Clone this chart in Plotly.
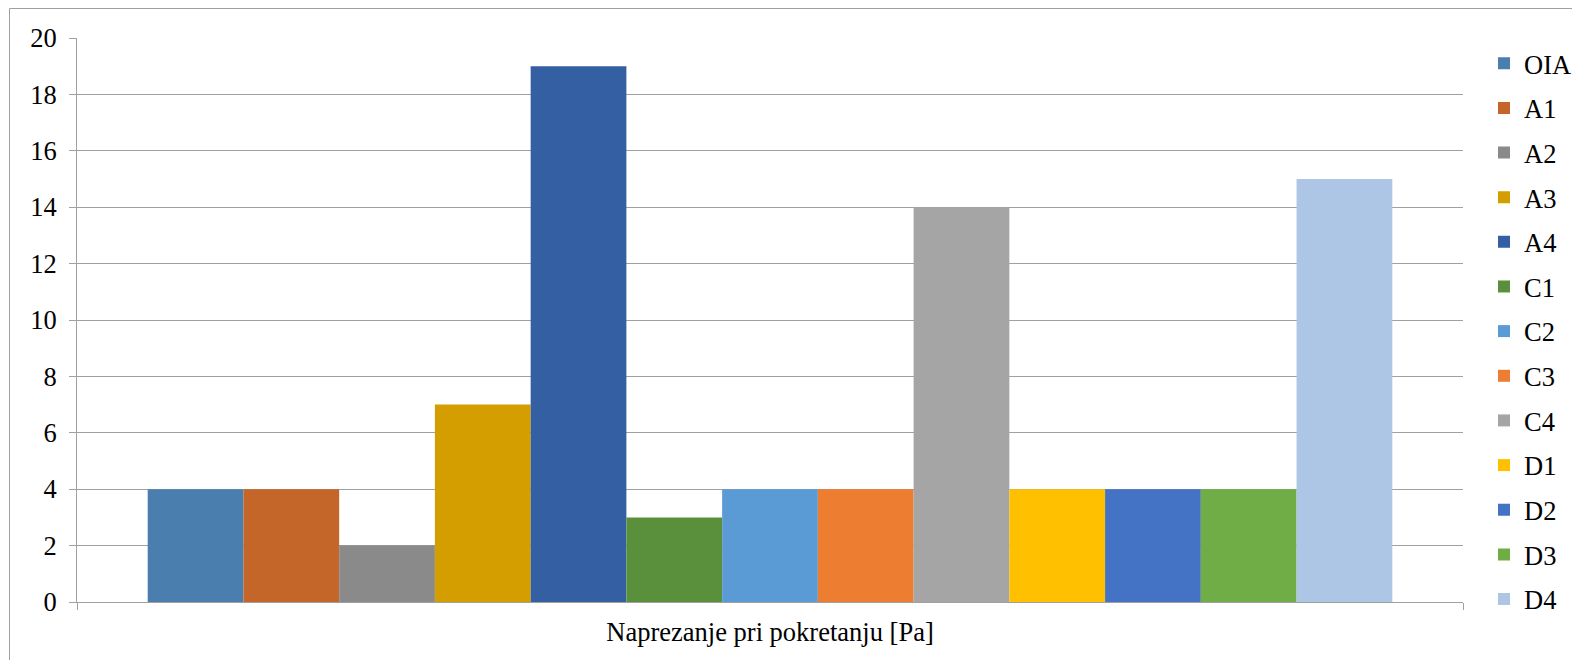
import plotly.graph_objects as go

category = ["Naprezanje pri pokretanju [Pa]"]
series_names = ["OIA", "A1", "A2", "A3", "A4", "C1", "C2", "C3", "C4", "D1", "D2", "D3", "D4"]
values = [4, 4, 2, 7, 19, 3, 4, 4, 14, 4, 4, 4, 15]
colors = ["#4A7EAF", "#C4652A", "#8A8A8A", "#D49E00", "#355FA3", "#5A8F3B",
          "#5B9BD5", "#ED7D31", "#A5A5A5", "#FFC000", "#4472C4", "#70AD47", "#ADC6E5"]
y_ticks = [0, 2, 4, 6, 8, 10, 12, 14, 16, 18, 20]

FONT = "Liberation Serif"
FS = 26.5
W, H = 1572, 652
L, R, T, B = 69, 117, 30, 58

fig = go.Figure()
for i, (name, v, c) in enumerate(zip(series_names, values, colors)):
    fig.add_trace(go.Bar(x=category, y=[v], name=name, marker_color=c,
                         marker_line_width=0, legendgroup=f"g{i}"))

pw = W - L - R
ph = H - T - B
def px_x(p):
    return (p - L) / pw
def px_y(p):
    return (H - B - p) / ph

fig.update_layout(
    width=W, height=H,
    margin=dict(l=L, r=R, t=T, b=B, pad=0, autoexpand=False),
    paper_bgcolor="white", plot_bgcolor="white",
    barmode="group", bargap=0.102, bargroupgap=0,
    font=dict(family=FONT, size=FS, color="black"),
    showlegend=True,
    legend=dict(x=px_x(1476), xanchor="left", y=px_y(31.5), yanchor="top",
                font=dict(size=FS, family=FONT), tracegroupgap=7.2,
                bgcolor="rgba(0,0,0,0)", itemwidth=30, maxheight=640),
    xaxis=dict(showline=True, linecolor="#A0A0A0", linewidth=1,
               ticks="outside", ticklen=7, tickcolor="#A0A0A0", tickson="boundaries",
               showgrid=False, tickfont=dict(size=FS, family=FONT), zeroline=False,
               ticklabelstandoff=6),
    yaxis=dict(range=[0, 20], tickvals=y_ticks, showline=True, linecolor="#A0A0A0",
               linewidth=1, ticks="outside", ticklen=7, tickcolor="#A0A0A0",
               showgrid=True, gridcolor="#A0A0A0", gridwidth=1, zeroline=False,
               tickfont=dict(size=FS, family=FONT), ticklabelstandoff=7),
    shapes=[dict(type="rect", xref="paper", yref="paper",
                 x0=px_x(1.5), x1=px_x(1700), y0=px_y(760), y1=px_y(0.5),
                 line=dict(color="#A0A0A0", width=1), fillcolor="rgba(0,0,0,0)")],
)

fig.write_html("out.html")
